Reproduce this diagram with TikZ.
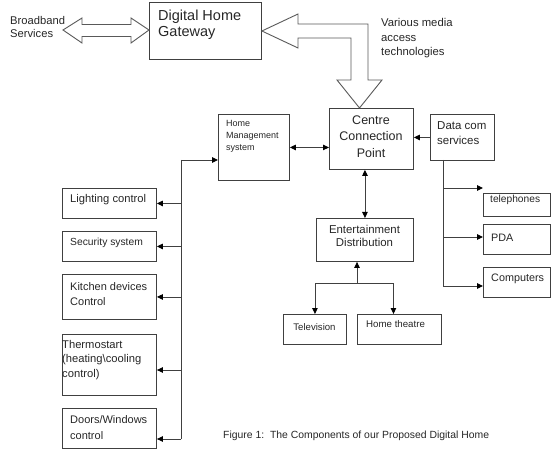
\documentclass[tikz,border=0pt]{standalone}
\usepackage{fontspec}
\setmainfont{Liberation Sans}
\usetikzlibrary{arrows.meta}
\newcommand\fsz[2]{\fontsize{#1}{#2}\selectfont}
\newcommand\bx[5]{\node[box,minimum width=#4pt,minimum height=#5pt,anchor=north west] (#1) at (#2,#3) {};}
\begin{document}
\begin{tikzpicture}[x=1pt,y=-1pt,
  box/.style={draw=black!75,line width=0.9pt,inner sep=0pt},
  txt/.style={inner sep=0pt,anchor=west,align=left,text=black!85},
  ctxt/.style={inner sep=0pt,anchor=center,align=center,text=black!85},
  conn/.style={draw=black!75,line width=0.9pt},
  tip/.tip={Triangle[length=6pt,width=5.5pt,color=black]},
  arr/.style={conn,-tip},
  darr/.style={conn,tip-tip},
  big/.style={draw=black!65,line width=0.9pt,fill=white,line join=miter}]
\useasboundingbox (0,0) rectangle (554,457);
% boxes
\bx{gw}{149}{2}{112}{57}
\bx{ccp}{329}{108}{84}{61}
\bx{dc}{430}{114}{64}{46}
\bx{hms}{218}{114}{71}{66}
\bx{lc}{62}{188}{94}{30}
\bx{ss}{62}{231}{94}{30}
\bx{kd}{62}{274}{94}{45}
\bx{th}{62}{334}{94}{61}
\bx{dw}{62}{408}{94}{40}
\bx{ent}{316}{218}{97}{43}
\bx{tv}{283}{314}{63}{30}
\bx{ht}{357}{314}{84}{30}
\bx{tel}{483}{193}{67}{23}
\bx{pda}{483}{224}{67}{30}
\bx{cmp}{483}{267}{67}{30}
% texts
\node[txt,font=\fsz{11.2}{13}] (tbb) at (10,26.5) {Broadband\\Services};
\node[txt,font=\fsz{14.5}{16}] (tgw) at (158,25) {Digital Home\\Gateway};
\node[txt,font=\fsz{11.3}{14.5}] (tvm) at (381,38.5) {Various media\\access\\technologies};
\node[ctxt,font=\fsz{12.5}{16.5}] (tccp) at (371,136.5) {Centre\\Connection\\Point};
\node[txt,font=\fsz{11.5}{15}] (tdc) at (437,133.5) {Data com\\services};
\node[txt,font=\fsz{9}{12}] (thms) at (226,136) {Home\\Management\\system};
\node[txt,font=\fsz{11.2}{13}] (tlc) at (70,199.5) {Lighting control};
\node[txt,font=\fsz{10.3}{13}] (tss) at (70,242.5) {Security system};
\node[txt,font=\fsz{11}{15}] (tkd) at (70,294) {Kitchen devices\\Control};
\node[txt,font=\fsz{11.2}{14.5}] (tth) at (62,360) {Thermostart\\(heating\textbackslash cooling\\control)};
\node[txt,font=\fsz{11}{16}] (tdw) at (70,427.5) {Doors/Windows\\control};
\node[ctxt,font=\fsz{11.4}{13}] (tent) at (364.5,236) {Entertainment\\Distribution};
\node[ctxt,font=\fsz{9.6}{12}] (ttv) at (314.5,327.5) {Television};
\node[txt,font=\fsz{9.7}{12}] (tht) at (366,324.5) {Home theatre};
\node[txt,font=\fsz{10.2}{12}] (ttel) at (490,200) {telephones};
\node[txt,font=\fsz{10.8}{12}] (tpda) at (491,237.5) {PDA};
\node[txt,font=\fsz{10.8}{12}] (tcmp) at (491,278.5) {Computers};
\node[txt,font=\fsz{10.4}{12}] (tcap) at (223,436) {Figure 1:\ \ The Components of our Proposed Digital Home};
% big hollow arrows
\draw[big] (63,30) -- (82,18) -- (82,24.5) -- (131,24.5) -- (131,18) -- (gw.west |- 0,30) -- (131,43) -- (131,36.5) -- (82,36.5) -- (82,43) -- cycle;
\draw[big] (gw.east |- 0,31) -- (298,14) -- (298,24) -- (368,24) -- (368,80) -- (382,80) -- (ccp.north -| 359.5,0) -- (337,80) -- (351,80) -- (351,38) -- (298,38) -- (298,48) -- cycle;
% connectors
\draw[arr] (dc.west) -- (dc.west -| ccp.east);
\draw[darr] (hms.east) -- (hms.east -| ccp.west);
\draw[darr] (ent.north) -- (ent.north |- ccp.south);
\coordinate (ej) at (357,283);
\draw[arr] (ej) -- (ej |- ent.south);
\draw[arr] (ej) -| (tv.north);
\draw[arr] (ej) -| ([xshift=-6pt]ht.north);
% home management bus
\coordinate (bt) at (181,160);
\coordinate (bb) at (181,439);
\draw[conn] (bt) -- (bb);
\draw[arr] (bt) -- (bt -| hms.west);
\draw[arr] (bt |- lc.east) -- (lc.east);
\draw[arr] (bt |- ss.east) -- (ss.east);
\draw[arr] (bt |- kd.east) -- (kd.east);
\coordinate (b4) at (181,370);
\draw[arr] (b4) -- (b4 -| th.east);
\draw[arr] (bb) -- (bb -| dw.east);
% data com bus
\coordinate (d0) at (443,160);
\coordinate (d1) at (443,188);
\coordinate (d2) at (443,237);
\coordinate (d3) at (443,286);
\draw[conn] (d0) -- (d3);
\draw[arr] (d1) -- (d1 -| tel.west);
\draw[arr] (d2) -- (d2 -| pda.west);
\draw[arr] (d3) -- (d3 -| cmp.west);
\end{tikzpicture}
\end{document}
